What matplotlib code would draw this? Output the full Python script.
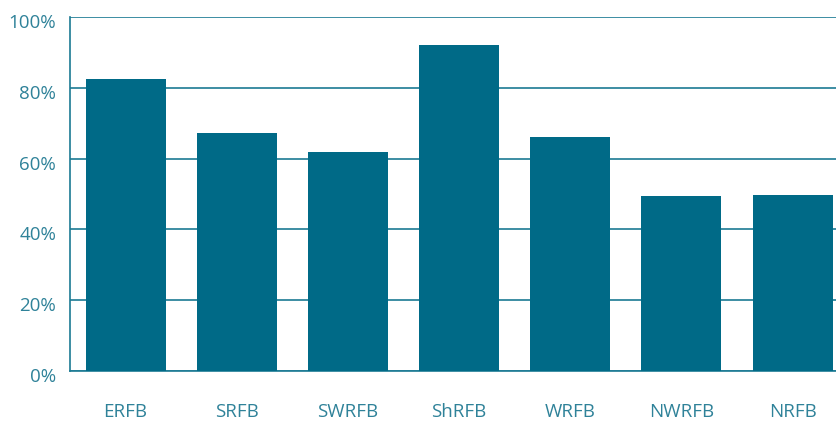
import matplotlib
matplotlib.use("Agg")
import matplotlib.pyplot as plt
import matplotlib.transforms as mtransforms
from matplotlib.ticker import PercentFormatter

categories = ["ERFB", "SRFB", "SWRFB", "ShRFB", "WRFB", "NWRFB", "NRFB"]
values = [82.5, 67.2, 61.9, 92.1, 66.1, 49.4, 49.7]
y_ticks = [0, 20, 40, 60, 80, 100]

bar_color = "#006a87"
line_color = "#1b7a93"
text_color = "#2f8299"

plt.rcParams["font.family"] = ["Open Sans", "DejaVu Sans"]

fig = plt.figure(figsize=(8.37, 4.21), dpi=100)
ax = fig.add_axes([70 / 837, 50 / 421, 767 / 837, 354 / 421])

x = range(len(categories))
ax.bar(x, values, width=0.72, color=bar_color, zorder=3)

ax.set_xlim(-0.5, 6.4)
ax.set_ylim(0, 100)
ax.set_yticks(y_ticks)
ax.yaxis.set_major_formatter(PercentFormatter(decimals=0))
ax.set_xticks(list(x))
ax.set_xticklabels(categories)

ax.grid(axis="y", color=line_color, linewidth=1.2, zorder=0)
ax.set_axisbelow(True)

for side in ["top", "right"]:
    ax.spines[side].set_visible(False)
ax.spines["left"].set_color(line_color)
ax.spines["bottom"].set_color(line_color)
ax.spines["left"].set_linewidth(1.2)
ax.spines["bottom"].set_linewidth(1.2)

ax.tick_params(axis="both", length=0, labelsize=13.5, colors=text_color)
ax.tick_params(axis="y", pad=10)
ax.tick_params(axis="x", pad=23)

# y labels sit a little below their gridlines in the original
shift = mtransforms.ScaledTranslation(0, -4 / 100, fig.dpi_scale_trans)
for lbl in ax.get_yticklabels():
    lbl.set_transform(lbl.get_transform() + shift)

fig.savefig("out.png", dpi=100)
